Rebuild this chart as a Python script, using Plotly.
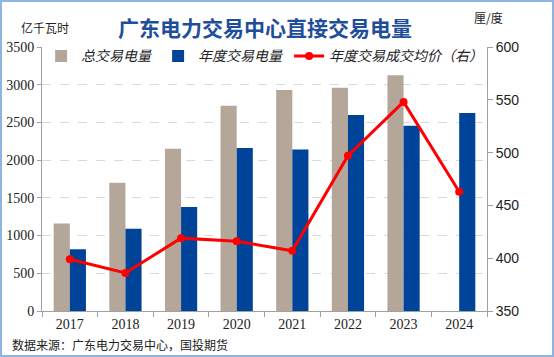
import plotly.graph_objects as go

years = ["2017", "2018", "2019", "2020", "2021", "2022", "2023", "2024"]
total_volume = [1160, 1700, 2150, 2720, 2930, 2960, 3125, None]
annual_volume = [820, 1090, 1380, 2160, 2140, 2600, 2455, 2625]
annual_price = [399, 386, 419, 416, 407, 497, 548, 463]

CJK = "Noto Sans CJK SC"
SERIF = "Liberation Serif"

W, H = 554, 357
ML, MR, MT, MB = 42, 67, 47, 46
PW = W - ML - MR
PH = H - MT - MB


def px_x(x):
    return (x - ML) / PW


def px_y(y):
    return (H - MB - y) / PH


fig = go.Figure()
fig.add_trace(go.Bar(x=years, y=total_volume, name="总交易电量",
                     marker=dict(color="#B5A69A", line=dict(width=0)), yaxis="y"))
fig.add_trace(go.Bar(x=years, y=annual_volume, name="年度交易电量",
                     marker=dict(color="#00449A", line=dict(width=0)), yaxis="y"))
fig.add_trace(go.Scatter(x=years, y=annual_price, name="年度交易成交均价（右）",
                         mode="lines+markers", yaxis="y2",
                         line=dict(color="#FF0000", width=3),
                         marker=dict(color="#FF0000", size=8)))

fig.update_layout(
    width=W, height=H,
    margin=dict(l=ML, r=MR, t=MT, b=MB, autoexpand=False),
    paper_bgcolor="white", plot_bgcolor="white",
    barmode="group", bargap=0.42, bargroupgap=0,
    showlegend=True,
    legend=dict(orientation="h", x=-0.002, y=1.025, xanchor="left", yanchor="top",
                font=dict(family=CJK, size=14, color="#222222", style="italic"),
                bgcolor="rgba(0,0,0,0)", itemwidth=30, tracegroupgap=0),
    xaxis=dict(type="category", showline=True, linecolor="#A0A0A0", linewidth=1,
               ticks="outside", ticklen=5, tickcolor="#A0A0A0",
               tickson="boundaries",
               tickfont=dict(family=SERIF, size=14, color="#222222"),
               showgrid=False),
    yaxis=dict(range=[0, 3500], dtick=500, showline=True, linecolor="#A0A0A0",
               ticks="outside", ticklen=4, tickcolor="#A0A0A0",
               tickfont=dict(family=SERIF, size=14, color="#222222"),
               showgrid=True, gridcolor="#D9D9D9", griddash="dash", gridwidth=1,
               zeroline=False),
    yaxis2=dict(range=[350, 600], dtick=50, overlaying="y", side="right",
                showline=True, linecolor="#A0A0A0",
                ticks="outside", ticklen=5, tickcolor="#A0A0A0",
                tickfont=dict(family="Liberation Sans", size=14, color="#222222"),
                showgrid=False, zeroline=False),
)

fig.add_annotation(text="<b>广东电力交易中心直接交易电量</b>", x=px_x(265), y=px_y(27),
                   xref="paper", yref="paper", showarrow=False, xanchor="center", yanchor="middle",
                   font=dict(family=CJK, size=21, color="#1F4E9A"))
fig.add_annotation(text="亿千瓦时", x=px_x(19), y=px_y(27), xref="paper", yref="paper",
                   showarrow=False, xanchor="left", yanchor="middle",
                   font=dict(family=CJK, size=12, color="#222222"))
fig.add_annotation(text="厘/度", x=px_x(488), y=px_y(18), xref="paper", yref="paper",
                   showarrow=False, xanchor="center", yanchor="middle",
                   font=dict(family=CJK, size=12, color="#222222"))
fig.add_annotation(text="数据来源：广东电力交易中心，国投期货", x=px_x(10), y=px_y(344),
                   xref="paper", yref="paper", showarrow=False, xanchor="left", yanchor="middle",
                   font=dict(family=CJK, size=12, color="#222222"))

fig.add_shape(type="rect", xref="paper", yref="paper",
              x0=px_x(1), x1=px_x(553), y0=px_y(356), y1=px_y(1),
              line=dict(color="#8DB4E2", width=2), fillcolor="rgba(0,0,0,0)", layer="above")

fig.write_html("out.html", config={"displayModeBar": False})

with open("out.html", "r", encoding="utf-8") as f:
    html = f.read()
html = html.replace("<head>", "<head><style>html,body{margin:0;padding:0;overflow:hidden;}</style>", 1)
with open("out.html", "w", encoding="utf-8") as f:
    f.write(html)
